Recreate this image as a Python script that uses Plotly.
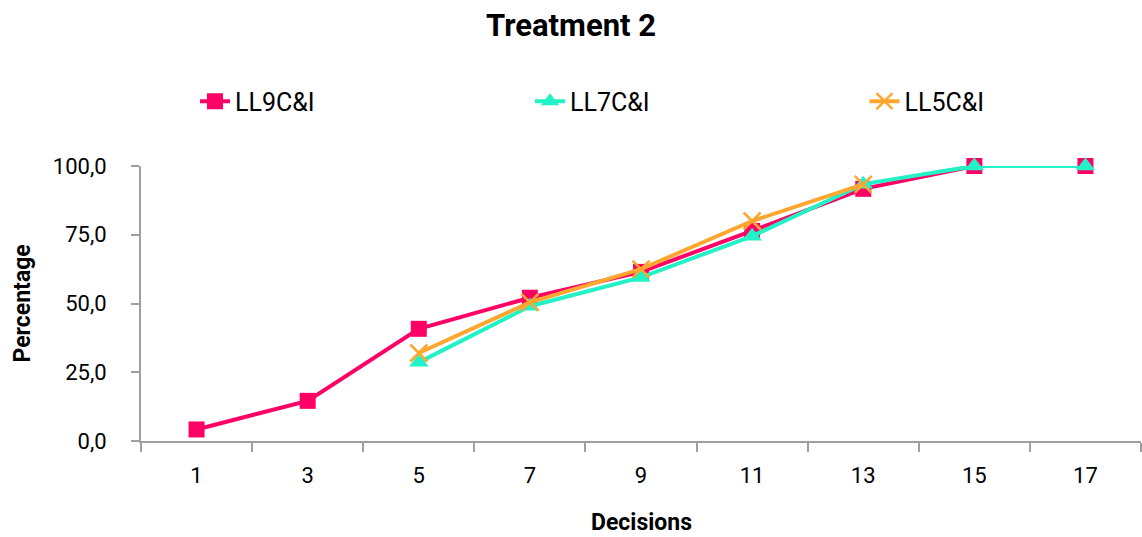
import plotly.graph_objects as go

# Decision rounds shown on the horizontal axis
decisions = ["1", "3", "5", "7", "9", "11", "13", "15", "17"]

# Share of subjects (%) per decision for each treatment series
ll9 = [4.2, 14.6, 40.8, 52.1, 61.5, 76.4, 91.7, 100.0, 100.0]
ll7 = [None, None, 28.6, 49.0, 59.5, 74.5, 93.4, 100.0, 100.0]
ll5 = [None, None, 32.0, 50.4, 62.5, 80.0, 93.3, None, None]

y_ticks = [0, 25, 50, 75, 100]
y_tick_labels = ["0,0", "25,0", "50,0", "75,0", "100,0"]

FONT = "Roboto"
AXIS_GREY = "#9f9f9f"

fig = go.Figure()

fig.add_trace(go.Scatter(
    x=decisions, y=ll9, name="LL9C&I", mode="lines+markers",
    line=dict(color="#FF0066", width=4),
    marker=dict(symbol="square", size=16, color="#FF0066"),
    cliponaxis=False, legend="legend",
))
fig.add_trace(go.Scatter(
    x=decisions, y=ll7, name="LL7C&I", mode="lines+markers",
    line=dict(color="#22F2C6", width=4),
    marker=dict(symbol="triangle-up", size=17, color="#22F2C6"),
    cliponaxis=False, legend="legend2",
))
fig.add_trace(go.Scatter(
    x=decisions, y=ll5, name="LL5C&I", mode="lines+markers",
    line=dict(color="#FFA62F", width=4),
    marker=dict(symbol="x-thin", size=17,
                line=dict(color="#FFA62F", width=2.5)),
    cliponaxis=False, legend="legend3",
))


def legend_at(x):
    return dict(orientation="h", x=x, xanchor="left", y=1.235,
                yanchor="middle", font=dict(size=25, family=FONT),
                bgcolor="rgba(0,0,0,0)")


fig.update_layout(
    width=1142, height=537,
    margin=dict(l=141, r=1, t=166, b=96),
    paper_bgcolor="white", plot_bgcolor="white",
    font=dict(family=FONT, color="black"),
    title=dict(text="<b>Treatment 2</b>", x=0.5, xanchor="center",
               xref="container", y=1 - 25 / 537, yanchor="middle",
               yref="container", font=dict(size=31, family=FONT)),
    showlegend=True,
    legend=legend_at(0.054),
    legend2=legend_at(0.389),
    legend3=legend_at(0.7235),
    xaxis=dict(
        type="category", categoryorder="array", categoryarray=decisions,
        range=[-0.5, 8.5], tickson="boundaries",
        showline=True, linecolor=AXIS_GREY, linewidth=2,
        ticks="outside", ticklen=9, tickcolor=AXIS_GREY, tickwidth=2,
        tickfont=dict(size=22, family=FONT), ticklabelstandoff=14,
        showgrid=False, zeroline=False, fixedrange=True,
    ),
    yaxis=dict(
        range=[0, 100], tickvals=y_ticks, ticktext=y_tick_labels,
        showline=True, linecolor=AXIS_GREY, linewidth=2,
        ticks="outside", ticklen=8, tickcolor=AXIS_GREY, tickwidth=2,
        tickfont=dict(size=22, family=FONT), ticklabelstandoff=20,
        showgrid=False, zeroline=False, fixedrange=True,
    ),
)

# Axis titles placed in paper space relative to the plot area
plot_h = 537 - 166 - 96
fig.add_annotation(text="<b>Decisions</b>", x=0.5, xref="paper",
                   y=-(522 - 441) / plot_h, yref="paper", yanchor="middle",
                   showarrow=False, font=dict(size=23, family=FONT))
fig.add_annotation(text="<b>Percentage</b>", textangle=-90,
                   x=-(141 - 22) / 1000, xref="paper", xanchor="center",
                   y=0.5, yref="paper", yanchor="middle",
                   showarrow=False, font=dict(size=23, family=FONT))

fig.write_html("out.html")
